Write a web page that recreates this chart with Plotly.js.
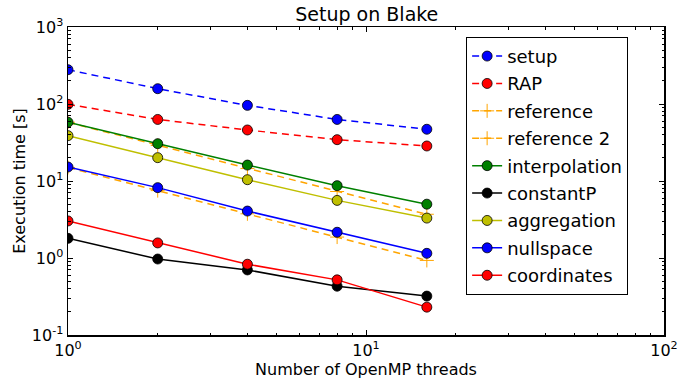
<!DOCTYPE html>
<html>
<head>
<meta charset="utf-8">
<script src="https://cdn.plot.ly/plotly-3.0.1.min.js"></script>
<style>html,body{margin:0;padding:0;background:#fff;}#chart{width:678px;height:383px;}</style>
</head>
<body>
<div id="chart"></div>
<script>
var threads = [1, 2, 4, 8, 16];
var setup = [279, 158, 96, 63, 47];
var rap = [99, 63, 46, 34.4, 28.5];
var reference = [58, 29, 14.5, 7.3, 3.7];
var reference2 = [15, 7.5, 3.75, 1.87, 0.93];
var interpolation = [58, 30.5, 16.1, 8.7, 5.0];
var constantP = [1.80, 0.97, 0.70, 0.43, 0.32];
var aggregation = [38.8, 20.1, 10.4, 5.6, 3.3];
var nullspace = [15.2, 8.2, 4.07, 2.16, 1.15];
var coordinates = [3.03, 1.57, 0.83, 0.52, 0.23];

var xTickVals = [1, 10, 100];
var xTickText = ['10<sup>0</sup>', '10<sup>1</sup>', '10<sup>2</sup>'];
var yTickVals = [0.1, 1, 10, 100, 1000];
var yTickText = ['10<sup>-1</sup>', '10<sup>0</sup>', '10<sup>1</sup>', '10<sup>2</sup>', '10<sup>3</sup>'];

function series(name, y, color, dash, circle) {
  return {
    x: threads, y: y, name: name, type: 'scatter', mode: 'lines+markers',
    legendgroup: name,
    line: {color: color, width: 1.5, dash: dash},
    marker: circle ? {symbol: 'circle', size: 10, color: color, line: {color: '#000', width: 0.8}}
                   : {symbol: 'cross-thin', size: 10, color: color, line: {color: color, width: 1}}
  };
}

var data = [
  series('setup', setup, '#0000ff', '7px,5px', true),
  series('RAP', rap, '#ff0000', '7px,5px', true),
  series('reference', reference, '#ffa500', '7px,5px', false),
  series('reference 2', reference2, '#ffa500', '7px,5px', false),
  series('interpolation', interpolation, '#008000', 'solid', true),
  series('constantP', constantP, '#000000', 'solid', true),
  series('aggregation', aggregation, '#bfbf00', 'solid', true),
  series('nullspace', nullspace, '#0000ff', 'solid', true),
  series('coordinates', coordinates, '#ff0000', 'solid', true)
];

var font = 'DejaVu Sans, sans-serif';
var axisCommon = {
  type: 'log',
  ticks: 'inside', ticklen: 5, tickwidth: 1, tickcolor: '#000',
  minor: {ticks: 'inside', ticklen: 2.5, tickwidth: 1, tickcolor: '#000', showgrid: false, dtick: 'D1'},
  showline: true, linecolor: '#000', linewidth: 1.5, mirror: 'allticks',
  showgrid: false, zeroline: false,
  tickfont: {family: font, size: 16, color: '#000'}
};
var layout = {
  width: 678, height: 383,
  margin: {l: 68, r: 14, t: 27, b: 48},
  paper_bgcolor: '#fff', plot_bgcolor: '#fff',
  font: {family: font, color: '#000', size: 16},
  title: {text: 'Setup on Blake', font: {family: font, size: 19, color: '#000'}, x: 0.541, xanchor: 'center', y: 0.963, yanchor: 'middle'},
  xaxis: Object.assign({}, axisCommon, {
    range: [0, 2], tickvals: xTickVals, ticktext: xTickText,
    title: {text: 'Number of OpenMP threads', font: {family: font, size: 16}, standoff: 2}
  }),
  yaxis: Object.assign({}, axisCommon, {
    range: [-1, 3], tickvals: yTickVals, ticktext: yTickText,
    title: {text: 'Execution time [s]', font: {family: font, size: 16}, standoff: 2}
  }),
  showlegend: true,
  legend: {
    x: 0.668, y: 0.968, xanchor: 'left', yanchor: 'top',
    bgcolor: '#fff', bordercolor: '#000', borderwidth: 1,
    font: {family: font, size: 18, color: '#000'},
    traceorder: 'grouped', tracegroupgap: 1
  }
};

Plotly.newPlot('chart', data, layout, {displayModeBar: false, staticPlot: true});
</script>
</body>
</html>
